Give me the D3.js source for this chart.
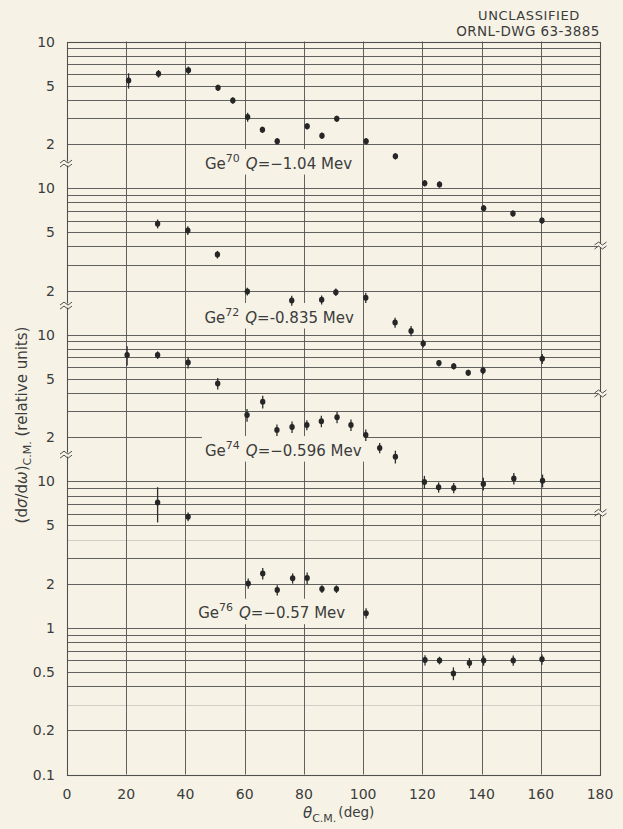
<!DOCTYPE html>
<html>
<head>
<meta charset="utf-8">
<script src="https://cdn.jsdelivr.net/npm/d3@7"></script>
<style>
  html, body { margin: 0; padding: 0; background: #f6f3e6; }
  svg { display: block; }
  text { font-family: "DejaVu Sans", "Liberation Sans", sans-serif; fill: #3c3c3c; }
</style>
</head>
<body>
<svg id="chart" width="623" height="829"></svg>
<script>
// Centre-of-mass angles (deg), relative cross sections and fractional errors, one set per isotope.
const ge70Theta = [20.8, 30.9, 41.0, 51.0, 56.0, 61.0, 66.0, 71.0, 81.1, 86.1, 91.1, 101.0, 110.9, 120.8, 125.8, 140.7, 150.6, 160.4];
const ge70Sigma = [5.42, 6.03, 6.37, 4.83, 3.96, 3.05, 2.50, 2.09, 2.64, 2.28, 2.97, 2.09, 1.65, 1.08, 1.06, 0.73, 0.67, 0.60];
const ge70Err   = [0.12, 0.06, 0.06, 0.05, 0.05, 0.07, 0.05, 0.05, 0.05, 0.05, 0.05, 0.05, 0.05, 0.05, 0.05, 0.05, 0.05, 0.05];

const ge72Theta = [30.6, 40.8, 50.8, 60.9, 75.9, 86.0, 90.8, 100.9, 110.8, 116.2, 120.3, 125.6, 130.6, 135.5, 140.5, 160.5];
const ge72Sigma = [5.71, 5.14, 3.52, 1.97, 1.71, 1.73, 1.95, 1.79, 1.21, 1.06, 0.87, 0.64, 0.61, 0.55, 0.57, 0.685];
const ge72Err   = [0.07, 0.07, 0.06, 0.06, 0.08, 0.07, 0.06, 0.08, 0.08, 0.08, 0.06, 0.05, 0.05, 0.05, 0.06, 0.08];

const ge74Theta = [20.3, 30.6, 40.9, 50.9, 60.8, 66.1, 70.9, 76.0, 81.0, 85.9, 91.2, 95.9, 100.9, 105.6, 110.9, 120.7, 125.5, 130.6, 140.6, 150.9, 160.6];
const ge74Sigma = [7.26, 7.26, 6.47, 4.65, 2.83, 3.49, 2.24, 2.35, 2.42, 2.57, 2.73, 2.42, 2.07, 1.69, 1.47, 0.99, 0.91, 0.90, 0.96, 1.045, 1.01];
const ge74Err   = [0.15, 0.06, 0.09, 0.09, 0.10, 0.10, 0.09, 0.09, 0.08, 0.09, 0.09, 0.09, 0.09, 0.08, 0.10, 0.10, 0.08, 0.08, 0.10, 0.09, 0.10];

const ge76Theta = [30.6, 40.9, 61.2, 66.1, 71.0, 76.2, 81.1, 86.1, 91.0, 101.0, 120.9, 125.8, 130.5, 135.9, 140.7, 150.7, 160.4];
const ge76Sigma = [7.18, 5.73, 2.01, 2.35, 1.81, 2.18, 2.19, 1.84, 1.84, 1.26, 0.603, 0.60, 0.489, 0.577, 0.60, 0.60, 0.61];
const ge76Err   = [0.27, 0.07, 0.08, 0.09, 0.08, 0.08, 0.09, 0.06, 0.06, 0.08, 0.08, 0.06, 0.10, 0.08, 0.08, 0.08, 0.08];

// Each isotope sits on its own stretch of one continuous log axis, shifted up by whole decades.
const panelShift = [1000, 100, 10, 1];
const panelMass  = ["70", "72", "74", "76"];
const panelQ     = ["\u22121.04", "-0.835", "\u22120.596", "\u22120.57"];
const labelTheta = [46.6, 46.4, 46.6, 44.3];
const labelValue = [1.47, 1.31, 1.62, 1.26];

// Axis ticks
const xTicks = [0, 20, 40, 60, 80, 100, 120, 140, 160, 180];
const yTickValues = [1e4, 5e3, 2e3, 1e3, 500, 200, 100, 50, 20, 10, 5, 2, 1, 0.5, 0.2, 0.1];
const yTickLabels = ["10", "5", "2", "10", "5", "2", "10", "5", "2", "10", "5", "2", "1", "0.5", "0.2", "0.1"];
const faintGrid = [4, 0.3];

// Scale-break marks on the left and right edges (axis values)
const leftBreaks  = [1470, 158, 15.2];
const rightBreaks = [406, 39.7, 6.1];

const series = [
  { theta: ge70Theta, sigma: ge70Sigma, err: ge70Err },
  { theta: ge72Theta, sigma: ge72Sigma, err: ge72Err },
  { theta: ge74Theta, sigma: ge74Sigma, err: ge74Err },
  { theta: ge76Theta, sigma: ge76Sigma, err: ge76Err }
];

const paper = "#f6f3e6";
const ink = "#505050";
const svg = d3.select("#chart");
svg.append("rect").attr("width", 623).attr("height", 829).attr("fill", paper);

const x = d3.scaleLinear().domain([0, 180]).range([67, 600]);
const y = d3.scaleLog().domain([0.1, 1e4]).range([774.5, 41.5]);

const grid = svg.append("g").attr("stroke", ink).attr("stroke-width", 0.9).attr("fill", "none");

// horizontal log grid
grid.selectAll("line.h")
  .data(y.ticks().filter(v => v > 0.1 * 1.0001 && v < 1e4 * 0.9999))
  .join("line")
  .attr("x1", x(0)).attr("x2", x(180))
  .attr("y1", d => Math.round(y(d)) + 0.5).attr("y2", d => Math.round(y(d)) + 0.5)
  .attr("stroke-opacity", d => faintGrid.some(f => Math.abs(f - d) / f < 1e-6) ? 0.25 : 1);

// vertical grid
grid.selectAll("line.v")
  .data(xTicks.slice(1, -1))
  .join("line")
  .attr("x1", d => Math.round(x(d)) + 0.5).attr("x2", d => Math.round(x(d)) + 0.5)
  .attr("y1", y(1e4)).attr("y2", y(0.1));

// frame
grid.append("rect")
  .attr("x", Math.round(x(0)) + 0.5).attr("y", Math.round(y(1e4)) + 0.5)
  .attr("width", Math.round(x(180)) - Math.round(x(0)))
  .attr("height", Math.round(y(0.1)) - Math.round(y(1e4)))
  .attr("stroke-width", 1.1);

// scale breaks
function drawBreak(cx, cy) {
  const g = svg.append("g").attr("transform", `translate(${cx},${cy})`);
  g.append("rect").attr("x", -2).attr("y", -2).attr("width", 4).attr("height", 4).attr("fill", paper);
  [-2, 2].forEach(dy => {
    g.append("path")
      .attr("d", `M-6,${dy + 1.5} L-2,${dy - 1.5} L2,${dy + 1.5} L6,${dy - 1.5}`)
      .attr("fill", "none").attr("stroke", ink).attr("stroke-width", 1);
  });
}
leftBreaks.forEach(v => drawBreak(x(0) - 1, y(v)));
rightBreaks.forEach(v => drawBreak(x(180) + 0.5, y(v)));

// axis labels
svg.append("g").selectAll("text")
  .data(yTickValues)
  .join("text")
  .attr("x", 55).attr("y", d => y(d))
  .attr("text-anchor", "end").attr("dominant-baseline", "central")
  .attr("font-size", 14)
  .text((d, i) => yTickLabels[i]);

svg.append("g").selectAll("text")
  .data(xTicks)
  .join("text")
  .attr("x", d => x(d)).attr("y", 794)
  .attr("text-anchor", "middle").attr("dominant-baseline", "central")
  .attr("font-size", 14)
  .text(d => d);

// x title
const xt = svg.append("text").attr("x", 303).attr("y", 818).attr("font-size", 15);
xt.append("tspan").attr("font-style", "italic").text("\u03b8");
xt.append("tspan").attr("font-size", 11).attr("dy", 4).text("C.M.");
xt.append("tspan").attr("dy", -5).attr("dx", 2).attr("font-size", 13.5).text("(deg)");

// y title
const yt = svg.append("text")
  .attr("transform", "translate(27,425) rotate(-90)")
  .attr("text-anchor", "middle").attr("font-size", 15);
yt.append("tspan").text("(d");
yt.append("tspan").attr("font-style", "italic").text("\u03c3");
yt.append("tspan").text("/d");
yt.append("tspan").attr("font-style", "italic").text("\u03c9");
yt.append("tspan").text(")");
yt.append("tspan").attr("font-size", 11).attr("dy", 4).text("C.M.");
yt.append("tspan").attr("dy", -4).text(" (relative units)");

// drawing number
svg.append("text").attr("x", 529).attr("y", 15).attr("text-anchor", "middle")
  .attr("dominant-baseline", "central").attr("font-size", 13).attr("letter-spacing", 0.6)
  .text("UNCLASSIFIED");
svg.append("text").attr("x", 528).attr("y", 31).attr("text-anchor", "middle")
  .attr("dominant-baseline", "central").attr("font-size", 13.5).attr("letter-spacing", 0.4)
  .text("ORNL-DWG 63-3885");

// isotope labels with knocked-out background
panelMass.forEach((m, i) => {
  const g = svg.append("g");
  const t = g.append("text")
    .attr("x", x(labelTheta[i])).attr("y", y(labelValue[i] * panelShift[i]))
    .attr("dominant-baseline", "central").attr("font-size", 15);
  t.append("tspan").text("Ge");
  t.append("tspan").attr("font-size", 11).attr("dy", -6).text(m);
  t.append("tspan").attr("dy", 6).attr("dx", 6).attr("font-style", "italic").text("Q");
  t.append("tspan").text("=" + panelQ[i] + " Mev");
  const bb = t.node().getBBox();
  g.insert("rect", "text")
    .attr("x", bb.x - 3).attr("y", bb.y - 2)
    .attr("width", bb.width + 6).attr("height", bb.height + 4)
    .attr("fill", paper);
});

// data points with error bars
series.forEach((s, i) => {
  const k = panelShift[i];
  const pts = s.theta.map((t, j) => ({ t, v: s.sigma[j] * k, e: s.err[j] }));
  const g = svg.append("g");
  g.selectAll("line")
    .data(pts)
    .join("line")
    .attr("x1", d => x(d.t)).attr("x2", d => x(d.t))
    .attr("y1", d => y(d.v * (1 + d.e))).attr("y2", d => y(d.v * (1 - d.e)))
    .attr("stroke", "#2e2e2e").attr("stroke-width", 1.3);
  g.selectAll("ellipse")
    .data(pts)
    .join("ellipse")
    .attr("cx", d => x(d.t)).attr("cy", d => y(d.v))
    .attr("rx", 2.7).attr("ry", 3.0)
    .attr("fill", "#262626");
});
</script>
</body>
</html>
